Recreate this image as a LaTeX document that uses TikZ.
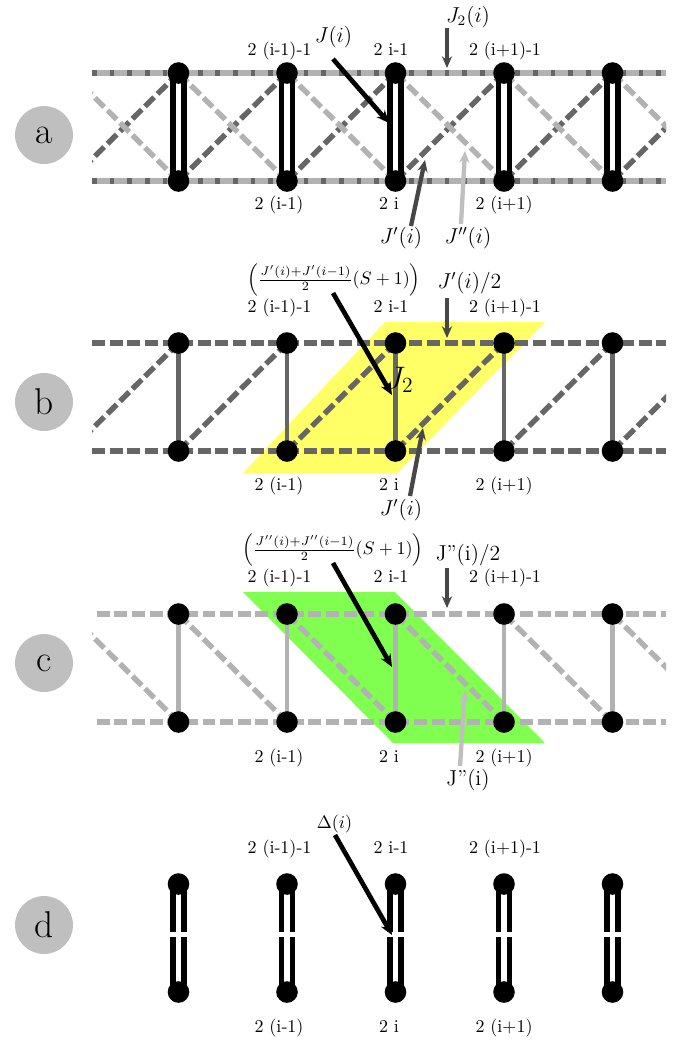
\documentclass[tikz,border=0pt]{standalone}
\usetikzlibrary{arrows.meta}
\pgfdeclarelayer{back}
\pgfdeclarelayer{bg}
\pgfdeclarelayer{mid}
\pgfsetlayers{back,bg,mid,main}
\definecolor{dkg}{gray}{0.40}
\definecolor{ltg}{gray}{0.70}
\definecolor{arrg}{gray}{0.28}
\definecolor{arrl}{gray}{0.75}
\definecolor{yel}{RGB}{255,255,102}
\definecolor{grn}{RGB}{128,255,80}
\definecolor{circg}{gray}{0.75}
\tikzset{
  dot/.style={circle,fill=black,inner sep=0pt,minimum size=12pt},
  dline/.style={line width=3pt,dash pattern=on 7.2pt off 2.6pt},
  dkline/.style={dline,draw=dkg},
  ltline/.style={dline,draw=ltg},
  ltfirst/.style={dash phase=7.2pt},
  dbar/.style={draw=black,line width=2.9pt,double=white,double distance=3.2pt},
  rung/.style={line width=2.4pt},
  lab/.style={anchor=base,inner sep=0pt},
  jlab/.style={lab,font=\large},
  panel/.style={circle,fill=circg,minimum size=32.2pt,inner sep=0pt,font=\huge},
  blkarr/.style={draw=black,line width=2.6pt,-{Stealth[length=7pt,width=6pt]}},
  dkarr/.style={draw=arrg,line width=2.4pt,-{Stealth[length=6.5pt,width=5.6pt]}},
  ltarr/.style={draw=arrl,line width=2.4pt,-{Stealth[length=6.5pt,width=5.6pt]}},
}
\newcommand\mkrow[2]{%
  \foreach \k in {1,...,5}{%
    \node[dot] (#1t\k) at ({178.5+108.5*(\k-1)},{#2}) {};
    \node[dot] (#1b\k) at ({178.5+108.5*(\k-1)},{#2+108}) {};
  }%
  \coordinate (#1t0) at (70,{#2});
  \coordinate (#1b0) at (70,{#2+108});
  \coordinate (#1t6) at (721,{#2});
  \coordinate (#1b6) at (721,{#2+108});
  \coordinate (#1Lt) at (92,{#2});
  \coordinate (#1Rt) at (666,{#2});
  \coordinate (#1Lb) at (92,{#2+108});
  \coordinate (#1Rb) at (666,{#2+108});
}
\newcommand\toplabs[2]{%
  \node[lab] (#1u1) at (279.5,{#2}) {2 (i-1)-1};
  \node[lab] (#1u2) at (391,{#2}) {2 i-1};
  \node[lab] (#1u3) at (505,{#2}) {2 (i+1)-1};
}
\newcommand\botlabs[2]{%
  \node[lab] (#1d1) at (279,{#2}) {2 (i-1)};
  \node[lab] (#1d2) at (389,{#2}) {2 i};
  \node[lab] (#1d3) at (504,{#2}) {2 (i+1)};
}
\begin{document}
\begin{tikzpicture}[x=0.5556pt,y=-0.5556pt]
\useasboundingbox (0,0) rectangle (689,1042);
% panel markers
\node[panel] (pa) at (44,135) {a};
\node[panel] (pb) at (44,402) {b};
\node[panel] (pc) at (44,663) {c};
\node[panel] (pd) at (44,925) {d};

% ================= panel a
\mkrow{a}{73}
\begin{pgfonlayer}{bg}
  \draw[dkline] (aLt) -- (aRt);
  \draw[dkline] (aLb) -- (aRb);
  \draw[ltline,ltfirst] (aLt) -- (aRt);
  \draw[ltline,ltfirst] (aLb) -- (aRb);
  \begin{scope}
    \clip (92,0) rectangle (666,1042);
    \foreach \k [count=\n from 1] in {0,...,5}{
      \draw[dkline] (ab\k.center) -- (at\n.center);
      \draw[ltline] (at\k.center) -- (ab\n.center);
    }
  \end{scope}
\end{pgfonlayer}
\begin{pgfonlayer}{mid}
  \foreach \k in {1,...,5} \draw[dbar] (at\k.center) -- (ab\k.center);
\end{pgfonlayer}
\toplabs{a}{55}
\botlabs{a}{209}
\node[jlab] (aJ) at (333.5,42) {$J(i)$};
\node[jlab] (aJ2) at (468,22) {$J_2(i)$};
\node[jlab] (aJp) at (401,243) {$J'(i)$};
\node[jlab] (aJpp) at (468,243) {$J''(i)$};
\coordinate (aJs) at (333,59);  \coordinate (aJe) at (389,123);
\coordinate (aJ2s) at (447,28); \coordinate (aJ2e) at (447,68);
\coordinate (aJps) at (411,226); \coordinate (aJpe) at (425,160);
\coordinate (aJpps) at (461,224); \coordinate (aJppe) at (465,151);
\draw[blkarr] (aJs) -- (aJe);
\draw[dkarr] (aJ2s) -- (aJ2e);
\draw[dkarr] (aJps) -- (aJpe);
\draw[ltarr] (aJpps) -- (aJppe);

% ================= panel b
\mkrow{b}{343}
\begin{pgfonlayer}{back}
  \fill[yel] (243,473) -- (385,322) -- (545,322) -- (397,473) -- cycle;
\end{pgfonlayer}
\begin{pgfonlayer}{bg}
  \draw[dkline] (bLt) -- (bRt);
  \draw[dkline] (bLb) -- (bRb);
  \begin{scope}
    \clip (92,0) rectangle (666,1042);
    \foreach \k [count=\n from 1] in {0,...,5}{
      \draw[dkline] (bb\k.center) -- (bt\n.center);
    }
  \end{scope}
  \foreach \k in {1,...,5} \draw[rung,dkg] (bt\k.center) -- (bb\k.center);
\end{pgfonlayer}
\toplabs{b}{312}
\botlabs{b}{490}
\node[lab,anchor=base west,font=\LARGE] (bJ2) at (385,388) {$J_2$};
\node (bF) at (334,280) {$\left(\frac{J'(i)+J'(i-1)}{2}(S+1)\right)$};
\node[jlab] (bJh) at (469.5,288) {$J'(i)/2$};
\node[jlab] (bJp) at (401,515) {$J'(i)$};
\coordinate (bAs) at (333,293);  \coordinate (bAe) at (392,395);
\coordinate (bHs) at (447,298);  \coordinate (bHe) at (447,338);
\coordinate (bPs) at (410,496);  \coordinate (bPe) at (423,428);
\draw[blkarr] (bAs) -- (bAe);
\draw[dkarr] (bHs) -- (bHe);
\draw[dkarr] (bPs) -- (bPe);

% ================= panel c
\mkrow{c}{614}
\begin{pgfonlayer}{back}
  \fill[grn] (243,592) -- (395,592) -- (545,743) -- (393,743) -- cycle;
\end{pgfonlayer}
\begin{pgfonlayer}{bg}
  \draw[ltline,ltfirst] (cLt) -- (cRt);
  \draw[ltline,ltfirst] (cLb) -- (cRb);
  \begin{scope}
    \clip (92,0) rectangle (666,1042);
    \foreach \k [count=\n from 1] in {0,...,5}{
      \draw[ltline] (ct\k.center) -- (cb\n.center);
    }
  \end{scope}
  \foreach \k in {1,...,5} \draw[rung,ltg] (ct\k.center) -- (cb\k.center);
\end{pgfonlayer}
\toplabs{c}{582}
\botlabs{c}{762}
\node (cF) at (333,550) {$\left(\frac{J''(i)+J''(i-1)}{2}(S+1)\right)$};
\node[jlab] (cJh) at (468,560) {J”(i)/2};
\node[jlab] (cJpp) at (468,785) {J”(i)};
\coordinate (cAs) at (333,563);  \coordinate (cAe) at (392,667);
\coordinate (cHs) at (447,568);  \coordinate (cHe) at (447,608);
\coordinate (cPs) at (460,766);  \coordinate (cPe) at (465,690);
\draw[blkarr] (cAs) -- (cAe);
\draw[dkarr] (cHs) -- (cHe);
\draw[ltarr] (cPs) -- (cPe);

% ================= panel d
\mkrow{d}{884}
\foreach \k in {1,...,5}{
  \coordinate (du\k) at ({178.5+108.5*(\k-1)},932);
  \coordinate (dl\k) at ({178.5+108.5*(\k-1)},937);
}
\begin{pgfonlayer}{mid}
  \foreach \k in {1,...,5}{
    \draw[dbar] (dt\k.center) -- (du\k);
    \draw[dbar] (dl\k) -- (db\k.center);
  }
\end{pgfonlayer}
\toplabs{d}{853}
\botlabs{d}{1032}
\node[lab] (dD) at (334.5,828) {$\Delta(i)$};
\coordinate (dAs) at (335,835);  \coordinate (dAe) at (392,935);
\draw[blkarr] (dAs) -- (dAe);
\end{tikzpicture}
\end{document}
